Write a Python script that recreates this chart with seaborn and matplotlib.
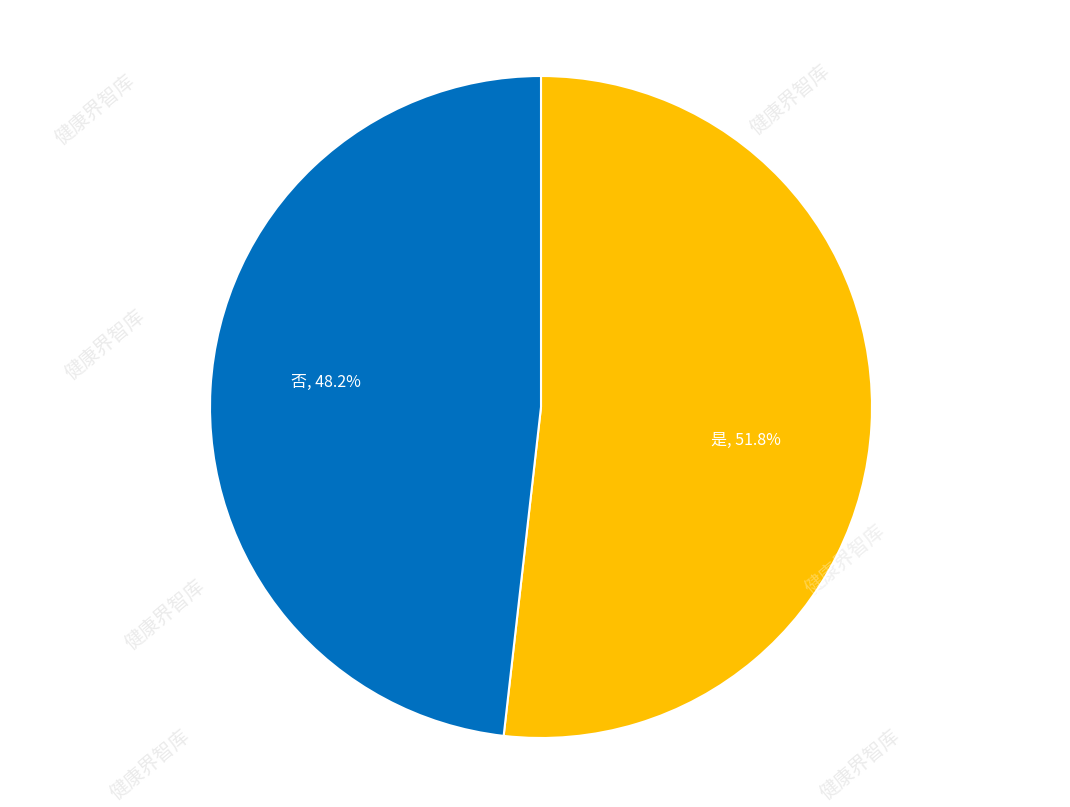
import matplotlib
matplotlib.use("Agg")
import matplotlib.pyplot as plt
import seaborn as sns
import numpy as np

categories = ["是", "否"]
values = [51.8, 48.2]
colors = ["#FFC000", "#0070C0"]
watermark = "健康界智库"

sns.set_theme(style="white")
plt.rcParams['font.family'] = ['Noto Sans CJK SC', 'DejaVu Sans']

fig = plt.figure(figsize=(10.7, 8.07), dpi=100)
fig.patch.set_facecolor("white")

# faint watermarks (behind the pie)
wm_pos = [(95, 110), (790, 100), (105, 345), (165, 615), (845, 560), (150, 765), (860, 765)]
for (x, y) in wm_pos:
    fig.text(x / 1070, 1 - y / 807, watermark, fontsize=14, color="#ebebeb",
             rotation=40, ha="center", va="center", zorder=-1)

ax = fig.add_axes([(541 - 331) / 1070, (807 - 738) / 807, 662 / 1070, 662 / 807])
ax.set_zorder(1)
ax.set_facecolor("none")
wedges, texts = ax.pie(values, colors=colors, startangle=90, counterclock=False,
                       wedgeprops=dict(edgecolor="white", linewidth=1.5))
shifts = {"是": (0.0, -0.065), "否": (-0.03, 0.04)}
for w, cat, v in zip(wedges, categories, values):
    ang = np.deg2rad((w.theta1 + w.theta2) / 2)
    r = 0.62
    dx, dy = shifts[cat]
    ax.text(r * np.cos(ang) + dx, r * np.sin(ang) + dy,
            f"{cat}, {v}%", ha="center", va="center", color="white", fontsize=11.5)
ax.set_xlim(-1, 1)
ax.set_ylim(-1, 1)
ax.set_aspect("equal")
ax.axis("off")

# watermark overlay on the yellow slice
fig.text(845 / 1070, 1 - 560 / 807, watermark, fontsize=14, color="white", alpha=0.3,
         rotation=40, ha="center", va="center", zorder=10)

fig.savefig("out.png", dpi=100, facecolor="white")
